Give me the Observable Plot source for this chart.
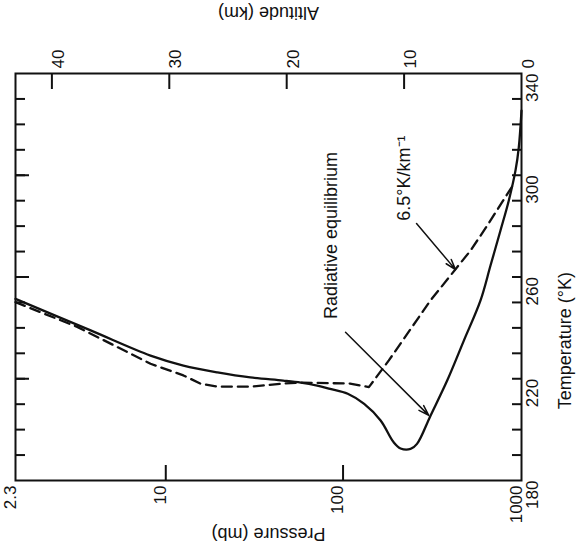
<!DOCTYPE html>
<html><head><meta charset="utf-8">
<script src="https://cdn.jsdelivr.net/npm/d3@7"></script>
<script src="https://cdn.jsdelivr.net/npm/@observablehq/plot@0.6"></script>
<style>
body{margin:0;background:#fff}
#chart svg{display:block;font-family:"Liberation Sans",Arial,Helvetica,sans-serif}
</style>
</head><body><div id="chart"></div>
<script>
// Radiative equilibrium profile (solid): altitude (km) and temperature (K)
const radAlt  = [43.1, 36.7, 31.6, 28.8, 25.9, 23.1, 20.3, 18.8, 17.4, 16.3, 14.8, 13.4, 12.0, 10.9, 10.3, 9.45, 8.9, 7.75, 6.33, 4.91, 3.49, 2.64, 1.79, 1.08, 0.51, 0.23, 0];
const radTemp = [251.4, 239.0, 229.1, 225.2, 222.5, 220.5, 219.3, 218.5, 217.3, 216.0, 214.1, 210.1, 203.6, 195.1, 192.6, 192.4, 194.4, 205.5, 219.3, 235.0, 250.8, 264.5, 278.3, 290.1, 301.9, 311.0, 325.4];
// 6.5 K/km lapse rate profile (dashed)
const lapseAlt  = [43.1, 37.8, 31.6, 28.8, 27.3, 25.9, 23.1, 20.3, 18.8, 14.6, 13.0, 11.3, 7.75, 4.34, 2.92, 0.6];
const lapseTemp = [250.1, 240.3, 225.9, 221.3, 218.0, 216.9, 216.9, 218.1, 218.5, 218.1, 216.7, 227.2, 250.8, 270.4, 280.2, 297.0];

// Axes
const altTicks = [40, 30, 20, 10, 0];
const pressureLabels = ["2.3", "10", "100", "1000"];
const pressureTickAlt = [43.1, 30.3, 15.2, 0];
const tempLabels = [180, 220, 260, 300, 340];
const tempMinor = [190, 200, 210, 220, 230, 240, 250, 260, 270, 280, 290, 300, 310, 320, 330];
const tempLeftLong = [220, 260, 300];

// Annotations
const noteText = ["Radiative equilibrium", "6.5°K/km⁻¹"];
const noteAlt  = [16.2, 9.97];
const noteTemp = [276.3, 298.9];
const arrowFromAlt  = [14.99, 8.94];
const arrowFromTemp = [238.3, 281.0];
const arrowToAlt    = [7.9, 5.62];
const arrowToTemp   = [205.6, 262.9];

const rad = radAlt.map((a, i) => ({alt: a, temp: radTemp[i]}));
const lapse = lapseAlt.map((a, i) => ({alt: a, temp: lapseTemp[i]}));
const pTicks = pressureLabels.map((label, i) => ({label, alt: pressureTickAlt[i]}));
const notes = noteText.map((t, i) => ({t, alt: noteAlt[i], temp: noteTemp[i]}));
const arrows = arrowFromAlt.map((a, i) => ({x1: a, y1: arrowFromTemp[i], x2: arrowToAlt[i], y2: arrowToTemp[i]}));

const W = 576, H = 550, mL = 15, mR = 55, mT = 73, mB = 70;
const fw = W - mL - mR, fh = H - mT - mB;

const chart = Plot.plot({
  width: W, height: H,
  marginLeft: mL, marginRight: mR, marginTop: mT, marginBottom: mB,
  x: {type: "linear", domain: [43.1, 0], axis: null},
  y: {type: "linear", domain: [180, 340], axis: null},
  style: {fontFamily: "Liberation Sans, Arial, Helvetica, sans-serif", color: "#111", background: "#fff"},
  marks: [
    // left inner ticks
    Plot.tickY(tempMinor, {y: d => d, insetRight: fw - 10, stroke: "#111", strokeWidth: 2}),
    Plot.tickY(tempLeftLong, {y: d => d, insetRight: fw - 14, stroke: "#111", strokeWidth: 2}),
    // right inner ticks
    Plot.tickY(tempMinor, {y: d => d, insetLeft: fw - 9, stroke: "#111", strokeWidth: 2}),
    // top inner ticks (altitude)
    Plot.tickX(altTicks.filter(d => d > 0), {x: d => d, insetBottom: fh - 16, stroke: "#111", strokeWidth: 2}),
    // bottom inner ticks (pressure)
    Plot.tickX(pTicks.filter(d => d.alt > 0 && d.alt < 43), {x: "alt", insetTop: fh - 15, stroke: "#111", strokeWidth: 2}),
    Plot.frame({stroke: "#111", strokeWidth: 2}),
    // curves
    Plot.line(lapse, {x: "alt", y: "temp", stroke: "#111", strokeWidth: 2.3, strokeDasharray: "10,6", curve: "linear"}),
    Plot.line(rad, {x: "alt", y: "temp", stroke: "#111", strokeWidth: 2.3, curve: "catmull-rom"}),
    // arrows
    Plot.arrow(arrows, {x1: "x1", y1: "y1", x2: "x2", y2: "y2", stroke: "#111", strokeWidth: 1.5, headLength: 11, headAngle: 35}),
    // annotations
    Plot.text(notes, {x: "alt", y: "temp", text: "t", rotate: -90, fontSize: 18, fill: "#111"}),
    // top tick labels
    Plot.text(altTicks, {x: d => d, text: d => String(d), frameAnchor: "top", dy: -5, rotate: -90, textAnchor: "start", fontSize: 17, fill: "#111"}),
    // bottom tick labels
    Plot.text(pTicks, {x: "alt", text: "label", frameAnchor: "bottom", dy: 5, rotate: -90, textAnchor: "end", fontSize: 17, fill: "#111"}),
    // right tick labels
    Plot.text(tempLabels, {y: d => d, text: d => String(d), frameAnchor: "right", dx: 11, rotate: -90, fontSize: 17, fill: "#111"}),
    // titles
    Plot.text(["Altitude (km)"], {frameAnchor: "top", dy: -54, rotate: 180, fontSize: 18, fill: "#111"}),
    Plot.text(["Pressure (mb)"], {frameAnchor: "bottom", dy: 47, rotate: 180, fontSize: 18, fill: "#111"}),
    Plot.text(["Temperature (°K)"], {x: 0, y: 235, dx: 44, rotate: -90, fontSize: 18, fill: "#111"})
  ]
});
document.getElementById("chart").append(chart);
</script>
</body></html>
